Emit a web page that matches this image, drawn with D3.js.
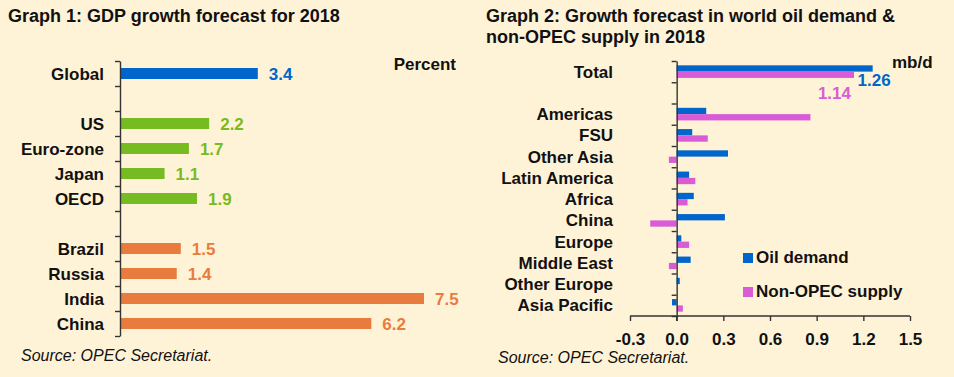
<!DOCTYPE html>
<html>
<head>
<meta charset="utf-8">
<script src="https://cdn.jsdelivr.net/npm/d3@7"></script>
<style>
  body { margin: 0; background: #fff3d7; }
  svg { display: block; font-family: "Liberation Sans", Arial, sans-serif; }
  .title { font-size: 18px; font-weight: bold; fill: #111; }
  .cat { font-size: 17px; font-weight: bold; fill: #111; text-anchor: end; }
  .val { font-size: 17px; font-weight: bold; }
  .source { font-size: 16px; font-style: italic; fill: #111; }
  .axis path, .axis line { stroke: #333; stroke-width: 1.4; }
  .axis text { font-size: 17px; font-weight: bold; fill: #111; font-family: "Liberation Sans", Arial, sans-serif; }
</style>
</head>
<body>
<svg id="chart" width="954" height="377"></svg>
<script>
// Graph 1 data
var gdpCategories = ["Global", "", "US", "Euro-zone", "Japan", "OECD", "", "Brazil", "Russia", "India", "China"]
var gdpValues     = [3.4, null, 2.2, 1.7, 1.1, 1.9, null, 1.5, 1.4, 7.5, 6.2]
var gdpGroups     = ["global", null, "oecd", "oecd", "oecd", "oecd", null, "emerging", "emerging", "emerging", "emerging"]
var gdpColors     = {"global": "#0066cc", "oecd": "#77bb22", "emerging": "#e87c3e"}

// Graph 2 data
var oilCategories = ["Total", "", "Americas", "FSU", "Other Asia", "Latin America", "Africa", "China", "Europe", "Middle East", "Other Europe", "Asia Pacific"]
var oilDemand     = [1.26, null, 0.19, 0.10, 0.33, 0.08, 0.11, 0.31, 0.03, 0.09, 0.02, -0.03]
var nonOpecSupply = [1.14, null, 0.86, 0.20, -0.05, 0.12, 0.07, -0.17, 0.08, -0.05, 0.00, 0.04]
var oilTicks      = [-0.3, 0.0, 0.3, 0.6, 0.9, 1.2, 1.5]
var seriesNames   = ["Oil demand", "Non-OPEC supply"]
var seriesColors  = ["#0066cc", "#d95cd6"]

var svg = d3.select("#chart")

// ---------- Graph 1 ----------
var g1 = svg.append("g")

g1.append("text").attr("class", "title").attr("x", 8).attr("y", 22)
  .text("Graph 1: GDP growth forecast for 2018")

var x1 = d3.scaleLinear().domain([0, 7.5]).range([120, 424])
var y1 = d3.scaleBand().domain(d3.range(gdpCategories.length)).range([61, 336])
var y1edges = d3.scaleLinear().domain([0, gdpCategories.length]).range([61, 336])

var rows1 = gdpCategories.map((c, i) => ({cat: c, value: gdpValues[i], group: gdpGroups[i], i: i}))
  .filter(d => d.value !== null)

var barH1 = 11
g1.selectAll(".bar1").data(rows1).enter().append("rect")
  .attr("x", x1(0))
  .attr("y", d => y1(d.i) + y1.bandwidth() / 2 - barH1 / 2)
  .attr("width", d => x1(d.value) - x1(0))
  .attr("height", barH1)
  .attr("fill", d => gdpColors[d.group])

g1.selectAll(".cat1").data(rows1).enter().append("text")
  .attr("class", "cat")
  .attr("x", 104)
  .attr("y", d => y1(d.i) + y1.bandwidth() / 2 + 6)
  .text(d => d.cat)

g1.selectAll(".val1").data(rows1).enter().append("text")
  .attr("class", "val")
  .attr("x", d => x1(d.value) + 11)
  .attr("y", d => y1(d.i) + y1.bandwidth() / 2 + 6.5)
  .attr("fill", d => gdpColors[d.group])
  .text(d => d.value.toFixed(1))

g1.append("g").attr("class", "axis")
  .attr("transform", "translate(" + x1(0) + ",0)")
  .call(d3.axisLeft(y1edges).tickValues(d3.range(gdpCategories.length + 1)).tickFormat("").tickSize(5).tickSizeOuter(0))

g1.append("text").attr("class", "cat").attr("x", 456).attr("y", 70).text("Percent")

g1.append("text").attr("class", "source").attr("x", 21).attr("y", 361)
  .text("Source: OPEC Secretariat.")

// ---------- Graph 2 ----------
var g2 = svg.append("g")

g2.append("text").attr("class", "title").attr("x", 486).attr("y", 22)
  .text("Graph 2: Growth forecast in world oil demand &")
g2.append("text").attr("class", "title").attr("x", 486).attr("y", 43)
  .text("non-OPEC supply in 2018")

var x2 = d3.scaleLinear().domain([-0.3, 1.5]).range([630, 910])
var y2 = d3.scaleBand().domain(d3.range(oilCategories.length)).range([61, 316])
var y2edges = d3.scaleLinear().domain([0, oilCategories.length]).range([61, 316])
var sub = d3.scaleBand().domain([0, 1]).range([-6.3, 6.3])

var rows2 = oilCategories.map((c, i) => ({cat: c, i: i, vals: [oilDemand[i], nonOpecSupply[i]]}))
  .filter(d => d.vals[0] !== null)

var groups = g2.selectAll(".row2").data(rows2).enter().append("g")
  .attr("transform", d => "translate(0," + (y2(d.i) + y2.bandwidth() / 2) + ")")

groups.selectAll("rect").data(d => d.vals.map((v, k) => ({v: v, k: k}))).enter().append("rect")
  .attr("x", d => x2(Math.min(0, d.v)))
  .attr("y", d => sub(d.k))
  .attr("width", d => Math.abs(x2(d.v) - x2(0)))
  .attr("height", sub.bandwidth())
  .attr("fill", d => seriesColors[d.k])

g2.selectAll(".cat2").data(rows2).enter().append("text")
  .attr("class", "cat")
  .attr("x", 613)
  .attr("y", d => y2(d.i) + y2.bandwidth() / 2 + 6)
  .text(d => d.cat)

// total labels
g2.append("text").attr("class", "val").attr("fill", seriesColors[0])
  .attr("text-anchor", "end")
  .attr("x", x2(oilDemand[0]) + 18).attr("y", 86)
  .text(oilDemand[0].toFixed(2))
g2.append("text").attr("class", "val").attr("fill", seriesColors[1])
  .attr("text-anchor", "end")
  .attr("x", x2(nonOpecSupply[0]) - 3).attr("y", 99)
  .text(nonOpecSupply[0].toFixed(2))

g2.append("g").attr("class", "axis")
  .attr("transform", "translate(" + x2(0) + ",0)")
  .call(d3.axisLeft(y2edges).tickValues(d3.range(oilCategories.length + 1)).tickFormat("").tickSize(5).tickSizeOuter(0))

var xAxis2 = g2.append("g").attr("class", "axis")
  .attr("transform", "translate(0,316)")
  .call(d3.axisBottom(x2).tickValues(oilTicks).tickFormat(d => d.toFixed(1)).tickSize(5).tickSizeOuter(0))
xAxis2.selectAll("text").attr("dy", "1.25em")
xAxis2.select(".domain").attr("d", "M" + x2(-0.3) + ",0H" + x2(1.5))

// extend y axis slightly below x axis
g2.append("line").attr("x1", x2(0)).attr("x2", x2(0)).attr("y1", 316).attr("y2", 321)
  .attr("stroke", "#333").attr("stroke-width", 1.4)

g2.append("text").attr("class", "val").attr("fill", "#111").attr("x", 892).attr("y", 68).text("mb/d")

// legend
var legend = g2.selectAll(".leg").data(seriesNames).enter().append("g")
  .attr("transform", (d, k) => "translate(743," + (253 + k * 34) + ")")
legend.append("rect").attr("width", 10).attr("height", 10).attr("fill", (d, k) => seriesColors[k])
legend.append("text").attr("class", "val").attr("fill", "#111").attr("x", 13).attr("y", 10).text(d => d)

g2.append("text").attr("class", "source").attr("x", 498).attr("y", 363)
  .text("Source: OPEC Secretariat.")
</script>
</body>
</html>
